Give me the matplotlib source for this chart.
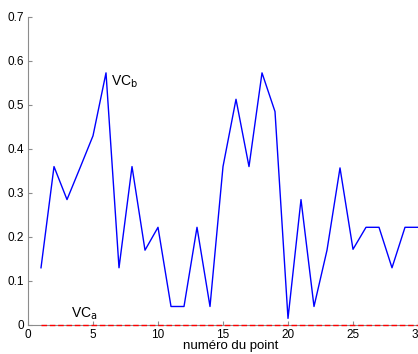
import matplotlib
matplotlib.use("Agg")
import matplotlib.pyplot as plt

# point index and the two series
points = list(range(1, 31))
vc_b = [0.13, 0.36, 0.285, 0.357, 0.43, 0.573, 0.13, 0.36, 0.17, 0.222,
        0.042, 0.042, 0.222, 0.042, 0.36, 0.513, 0.36, 0.573, 0.485, 0.015,
        0.285, 0.042, 0.17, 0.357, 0.172, 0.222, 0.222, 0.13, 0.222, 0.222]
vc_a = [0.0] * 30
x_ticks = [0, 5, 10, 15, 20, 25, 30]
y_ticks = [0, 0.1, 0.2, 0.3, 0.4, 0.5, 0.6, 0.7]

_AXIS = "#8c8c8c"
plt.rcParams["font.family"] = ["Liberation Sans", "DejaVu Sans"]

fig = plt.figure(figsize=(4.18, 3.54), dpi=100)
ax = fig.add_axes([0.067, 0.082, 0.933, 0.870])

ax.plot(points, vc_b, color="#0000ff", linewidth=1.0)
ax.plot(points, vc_a, color="#ff0000", linestyle="--", linewidth=1.0,
        dashes=(4, 2), clip_on=False, zorder=4)

ax.text(6.35, 0.552, r"VC$_\mathrm{b}$", fontsize=10, va="center", ha="left")
ax.text(3.3, 0.025, r"VC$_\mathrm{a}$", fontsize=10, va="center", ha="left")

ax.set_xlim(0, 30)
ax.set_ylim(0, 0.7)
ax.set_xticks(x_ticks)
ax.set_yticks(y_ticks)
ax.set_yticklabels([f"{v:g}" for v in y_ticks])
ax.set_xlabel("numéro du point", fontsize=9.5)
ax.xaxis.set_label_coords(0.52, -0.079)
ax.xaxis.label.set_va("baseline")

for side in ("top", "right"):
    ax.spines[side].set_visible(False)
for side in ("left", "bottom"):
    ax.spines[side].set_color(_AXIS)
ax.tick_params(direction="in", length=3, color=_AXIS, labelsize=8.5, pad=3)

fig.savefig("out.png", dpi=100, facecolor="white")
